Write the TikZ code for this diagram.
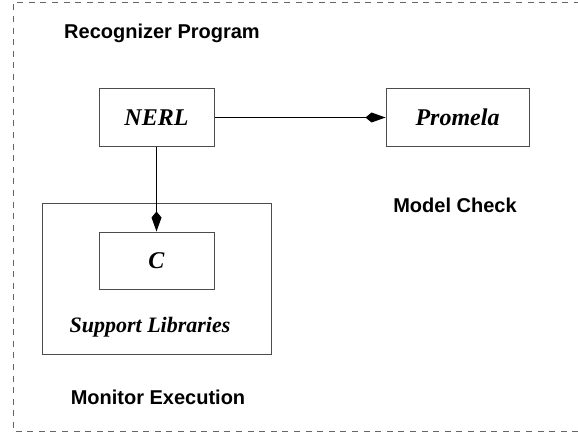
\documentclass[tikz,border=0pt]{standalone}
\usepackage{fontspec}
\setmainfont{Liberation Serif}
\setsansfont{Liberation Sans}
\usetikzlibrary{positioning, arrows.meta}

\begin{document}
\begin{tikzpicture}[x=0.5pt, y=-0.5pt,
    box/.style={draw=black!70, line width=0.5pt, minimum width=57.5pt, minimum height=28.5pt,
                inner sep=0pt, font=\fontsize{12}{14}\selectfont\bfseries\itshape},
    heading/.style={font=\sffamily\bfseries\fontsize{10}{12}\selectfont},
    link/.style={line width=0.6pt, -{Kite[length=10pt, width=5pt, inset=3pt]}}]
    \useasboundingbox (0,0) rectangle (578,433);

    % Frame (right side runs off the page)
    \draw[black!60, line width=0.5pt, dash pattern=on 3pt off 2.8pt]
        (580,3) -- (13,3) -- (13,431) -- (580,431);

    % Headings
    \node[heading] (recog) at (162,33) {Recognizer Program};
    \node[heading] (check) at (455,205) {Model Check};
    \node[heading] (monitor) at (158,397) {Monitor Execution};

    % Boxes
    \node[box, minimum width=114.5pt, minimum height=75.5pt] (support) at (156.5,278.5) {};
    \node[box] (nerl) at (156.5,117.5) {NERL};
    \node[box, minimum width=71.5pt] (promela) at (457.5,117.5) {Promela};
    \node[box] (c) at (156.5,260.5) {C};
    \node[font=\fontsize{11}{13}\selectfont\bfseries\itshape] (libs) at (150,327) {Support Libraries};

    % Links
    \draw[link] (nerl) -- (promela);
    \draw[link] (nerl) -- (c);
\end{tikzpicture}
\end{document}
